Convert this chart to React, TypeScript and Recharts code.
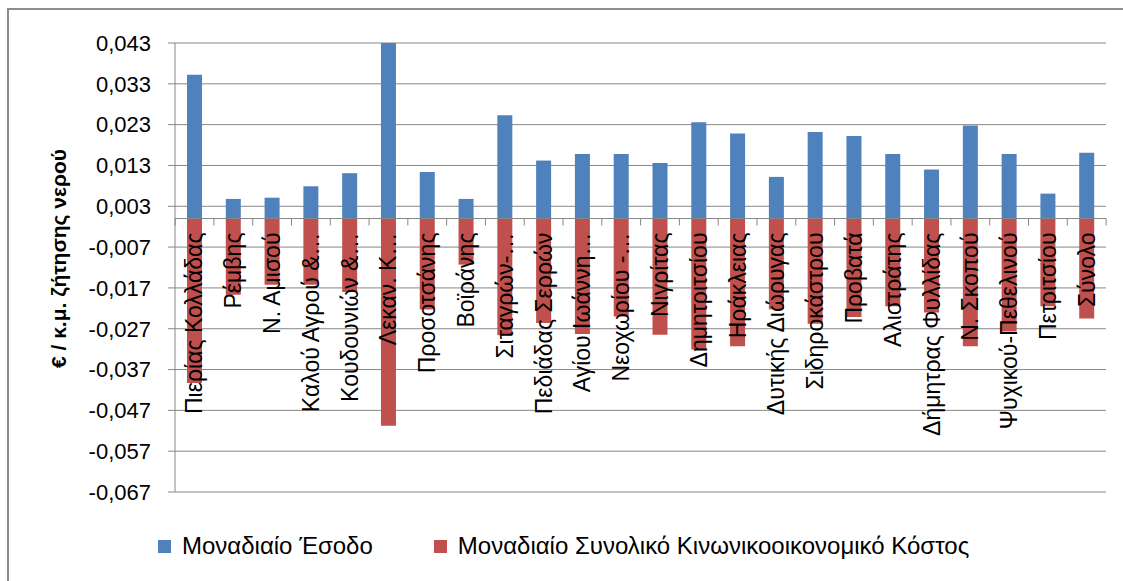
import React from "react";
import {
  BarChart,
  Bar,
  XAxis,
  YAxis,
  CartesianGrid,
  ReferenceLine,
  Legend,
  LabelList,
  Label,
} from "recharts";

// categories as shown on the x axis (Excel truncated some of them)
const categories = [
  "Πιερίας Κολλάδας",
  "Ρέμβης",
  "Ν. Αμισού",
  "Καλού Αγρού &…",
  "Κουδουνιών &…",
  "Λεκαν. Κ…",
  "Προσοτσάνης",
  "Βοϊράνης",
  "Σιταγρών-…",
  "Πεδιάδας Σερρών",
  "Αγίου Ιωάννη…",
  "Νεοχωρίου -…",
  "Νιγρίτας",
  "Δημητριτσίου",
  "Ηράκλειας",
  "Δυτικής Διώρυγας",
  "Σιδηροκάστρου",
  "Προβατά",
  "Αλιστράτης",
  "Δήμητρας Φυλλίδας",
  "Ν. Σκοπού",
  "Ψυχικού-Πεθελινού",
  "Πετριτσίου",
  "Σύνολο",
];

const revenue = [
  0.0352, 0.0048, 0.0051, 0.0079, 0.0111, 0.043, 0.0114, 0.0048, 0.0253, 0.0142,
  0.0158, 0.0158, 0.0136, 0.0236, 0.0208, 0.0102, 0.0212, 0.0202, 0.0158, 0.012,
  0.0228, 0.0158, 0.0061, 0.0161,
];

const cost = [
  -0.0403, -0.0187, -0.0162, -0.0162, -0.018, -0.0508, -0.0223, -0.0113, -0.0286, -0.0256,
  -0.0283, -0.024, -0.0285, -0.0321, -0.0313, -0.0222, -0.0258, -0.0241, -0.0215, -0.023,
  -0.0313, -0.0277, -0.0215, -0.0245,
];

const yTicks = [
  0.043, 0.033, 0.023, 0.013, 0.003, -0.007, -0.017, -0.027, -0.037, -0.047, -0.057, -0.067,
];

const seriesNames = [
  "Μοναδιαίο Έσοδο",
  "Μοναδιαίο Συνολικό Κινωνικοοικονομικό Κόστος",
];

const yTitle = "€ / κ.μ. ζήτησης νερού";

const data = categories.map((name, i) => ({
  name,
  revenue: revenue[i],
  cost: cost[i],
}));

const W = 1123;
const H = 581;
const axisWidth = 175;
const margin = { top: 43, right: 17, left: 0, bottom: 58 };
const font = "'Liberation Sans', Arial, sans-serif";
const gridColor = "#878787";
const step = (W - axisWidth - margin.right - margin.left) / categories.length;

const fmt = (v: number) => v.toFixed(3).replace(".", ",");

// category names + tick marks sit on the zero line, like in Excel
function CategoryLabel(props: any) {
  const vb = props.viewBox ?? props;
  const x = Number(vb.x);
  const y = Number(vb.y);
  const w = Number(vb.width);
  const h = Number(vb.height);
  const zeroY = Math.min(y, y + h);
  const cx = x + w / 2;
  const ty = zeroY + 14;
  const last = props.index === categories.length - 1;
  return (
    <g>
      <line x1={cx - step / 2} x2={cx - step / 2} y1={zeroY} y2={zeroY + 7} stroke={gridColor} />
      {last && (
        <line x1={cx + step / 2} x2={cx + step / 2} y1={zeroY} y2={zeroY + 7} stroke={gridColor} />
      )}
      <text
        x={cx}
        y={ty}
        transform={`rotate(-90, ${cx}, ${ty})`}
        textAnchor="end"
        dominantBaseline="central"
        fontSize={23}
        fontFamily={font}
        fill="#000"
      >
        {props.value}
      </text>
    </g>
  );
}

function YTitle(props: any) {
  const vb = props.viewBox ?? { x: 0, y: 0, width: 0, height: 0 };
  const cx = vb.x + 58;
  const cy = vb.y + vb.height / 2 - 9;
  return (
    <text
      x={cx}
      y={cy}
      transform={`rotate(-90, ${cx}, ${cy})`}
      textAnchor="middle"
      dominantBaseline="central"
      fontSize={21}
      fontWeight="bold"
      fontFamily={font}
      fill="#000"
    >
      {yTitle}
    </text>
  );
}

function LegendContent(props: any) {
  const items = props.payload ?? [];
  return (
    <div
      style={{
        display: "flex",
        alignItems: "center",
        fontFamily: font,
        fontSize: 24,
        color: "#000",
        whiteSpace: "nowrap",
      }}
    >
      {items.map((it: any, i: number) => (
        <div key={i} style={{ display: "flex", alignItems: "center", marginRight: 61 }}>
          <span
            style={{
              display: "inline-block",
              width: 13,
              height: 13,
              background: it.color,
              marginRight: 11,
            }}
          />
          <span>{it.value}</span>
        </div>
      ))}
    </div>
  );
}

export default function App() {
  return (
    <div
      style={{
        position: "absolute",
        left: 0,
        top: 0,
        width: W,
        height: H,
        overflow: "hidden",
        background: "#fff",
      }}
    >
      <div
        style={{
          position: "absolute",
          left: 7,
          top: 8,
          width: W + 20,
          height: H + 20,
          border: "2px solid #8d8d8d",
        }}
      />
      <div style={{ position: "absolute", left: 0, top: 0 }}>
        <BarChart
          width={W}
          height={H}
          data={data}
          margin={margin}
          stackOffset="sign"
          barSize={15}
        >
          <CartesianGrid vertical={false} stroke={gridColor} />
          <XAxis dataKey="name" hide />
          <YAxis
            width={axisWidth}
            domain={[-0.067, 0.043]}
            ticks={yTicks}
            interval={0}
            tickFormatter={fmt}
            axisLine={{ stroke: gridColor }}
            tickLine={{ stroke: gridColor }}
            tickSize={7}
            tickMargin={17}
            tick={{ fontSize: 22, fontFamily: font, fill: "#000" }}
          >
            <Label content={YTitle} />
          </YAxis>
          <ReferenceLine y={0} stroke={gridColor} />
          <Bar
            dataKey="revenue"
            name={seriesNames[0]}
            stackId="a"
            fill="#4F81BD"
            isAnimationActive={false}
          />
          <Bar
            dataKey="cost"
            name={seriesNames[1]}
            stackId="a"
            fill="#C0504D"
            isAnimationActive={false}
          >
            <LabelList dataKey="name" content={CategoryLabel} />
          </Bar>
          <Legend
            verticalAlign="bottom"
            height={31}
            content={LegendContent}
            wrapperStyle={{ left: 158, top: 532, width: "auto", height: 31 }}
          />
        </BarChart>
      </div>
    </div>
  );
}
